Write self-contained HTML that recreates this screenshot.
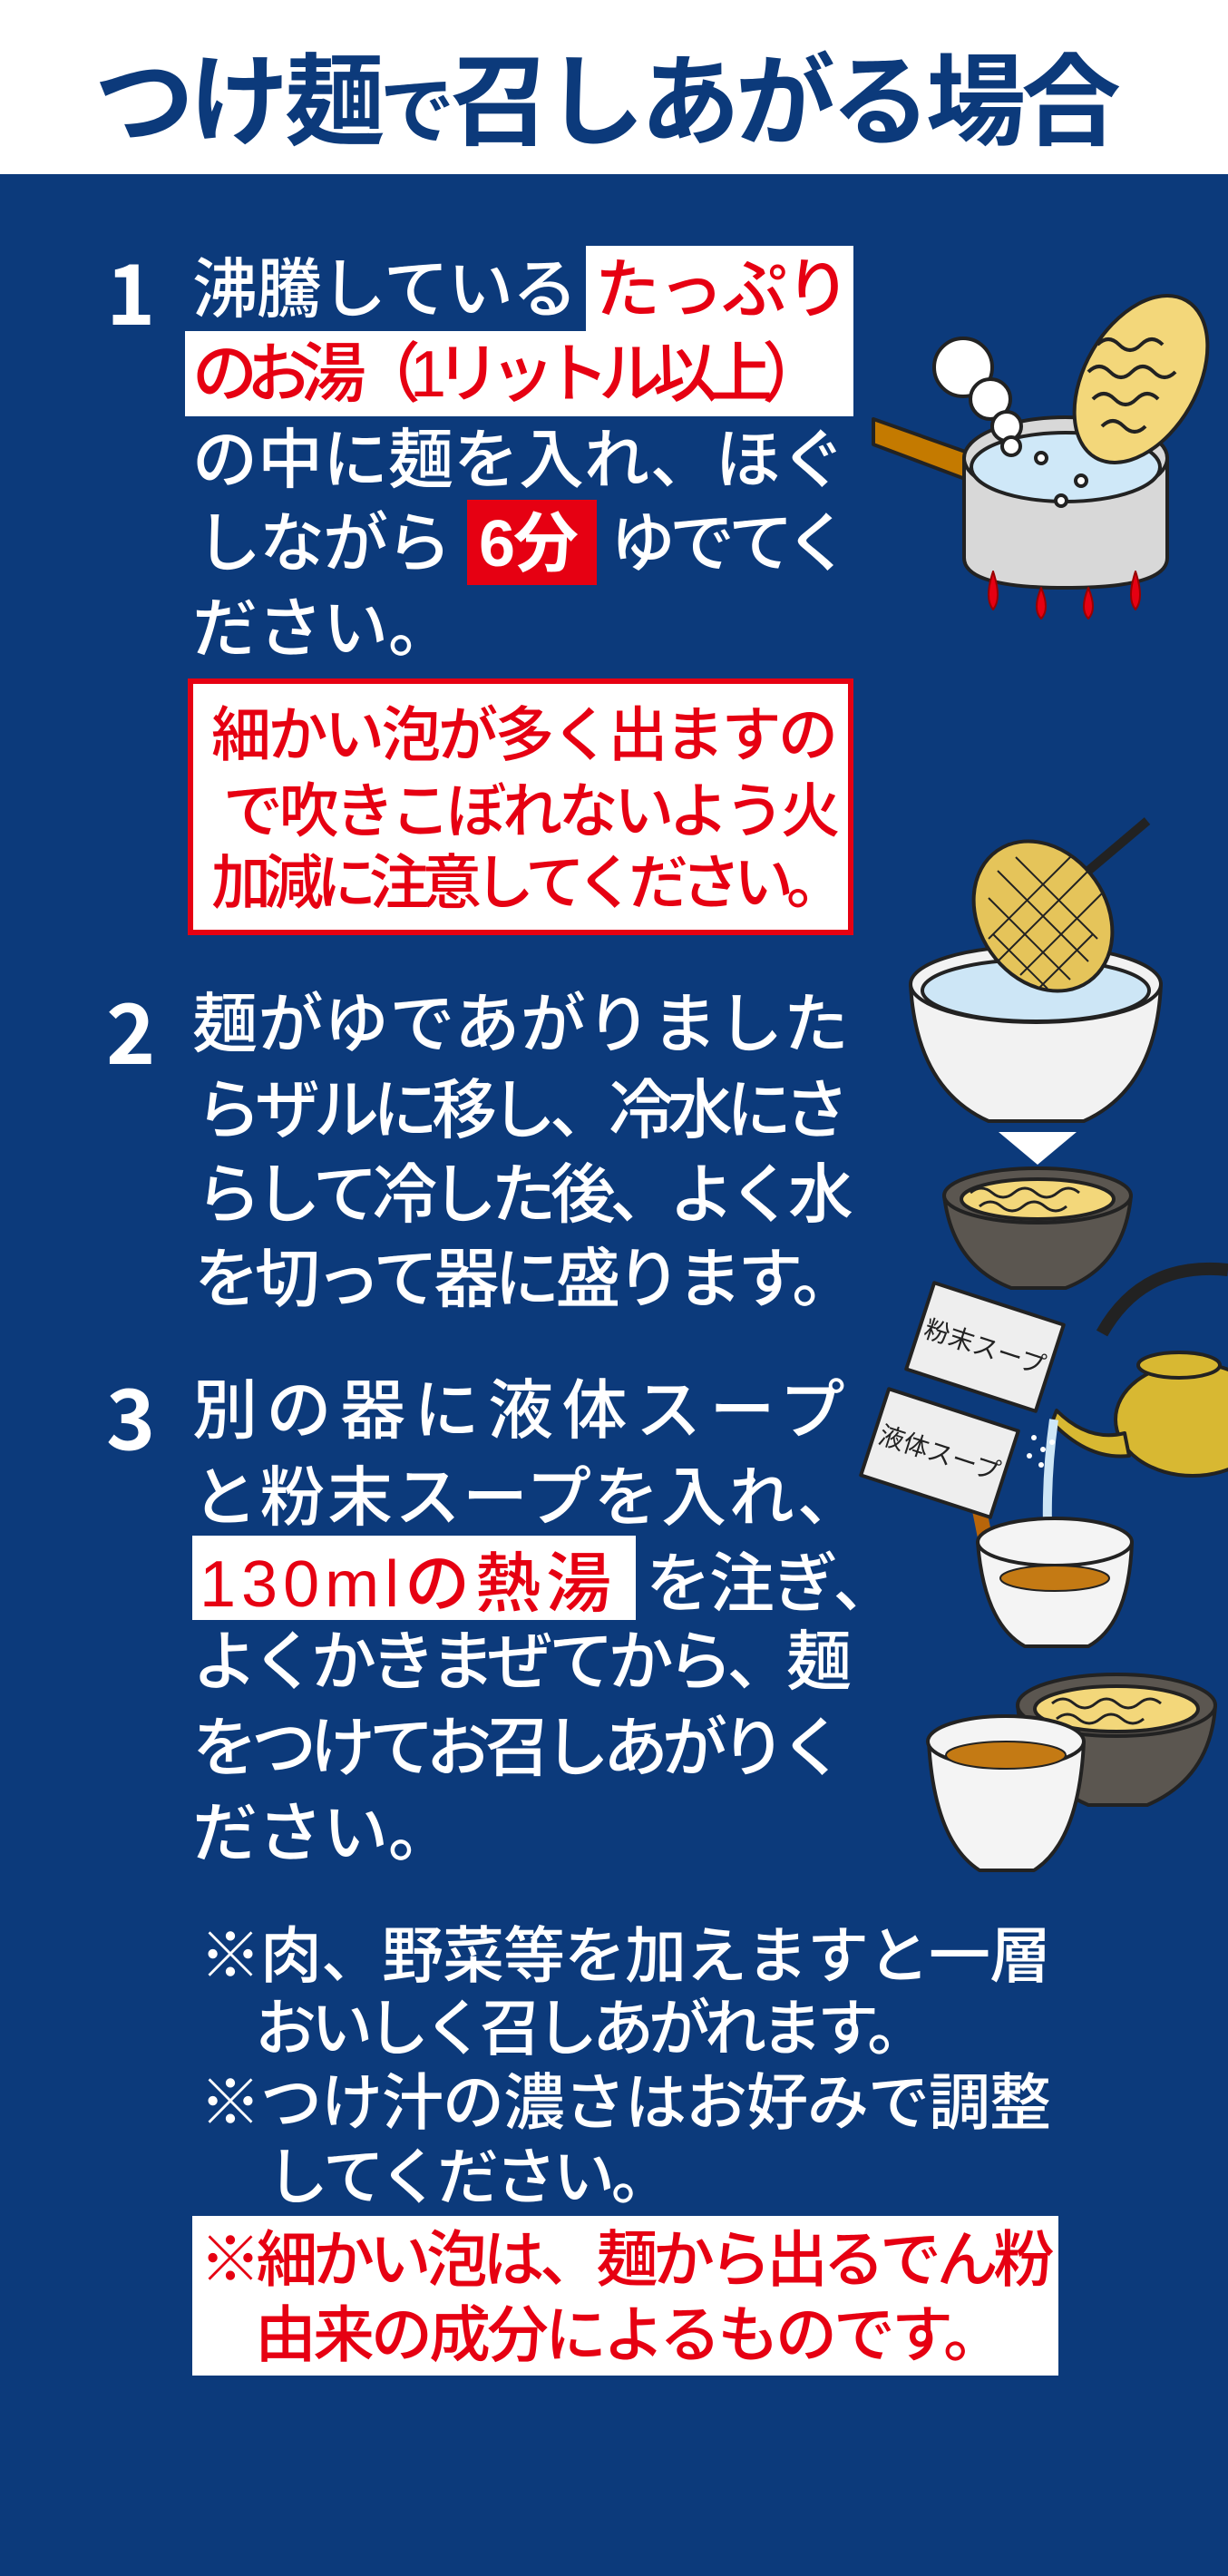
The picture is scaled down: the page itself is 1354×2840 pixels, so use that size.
<!DOCTYPE html>
<html><head><meta charset="utf-8"><style>
html,body{margin:0;padding:0}
body{width:1354px;height:2840px;position:relative;overflow:hidden;background:#0c3a7b;font-family:"Liberation Sans","Noto Sans CJK JP",sans-serif}
.hdr{position:absolute;left:0;top:0;width:1354px;height:192px;background:#fff}
.t{position:absolute;white-space:nowrap;color:#fff;font-size:72px;line-height:94px;height:94px;font-weight:500}
.r{color:#e60012}
.box{position:absolute}
.n{position:absolute;color:#fff;font-weight:bold;font-size:92px;line-height:94px;font-family:"Noto Sans CJK JP",sans-serif}
.m{font-size:66px;line-height:80px;height:80px}
.s{font-size:68px;line-height:82px;height:82px}
svg{position:absolute;left:0;top:0}
</style></head><body>
<div class="hdr"></div>
<div style="position:absolute;left:104px;top:38px;white-space:nowrap;color:#0c3a7b;font-weight:bold;font-size:110px;line-height:130px;letter-spacing:-5px;font-family:'Noto Sans CJK JP',sans-serif">つけ麺<span style="font-size:82px">で</span>召しあがる場合</div>

<!-- step1 -->
<div class="n" style="left:117px;top:272px">1</div>
<div class="box" style="left:646px;top:271px;width:295px;height:96px;background:#fff"></div>
<div class="box" style="left:204px;top:365px;width:737px;height:94px;background:#fff"></div>
<div class="box" style="left:515px;top:551px;width:143px;height:94px;background:#e60012"></div>
<div class="t" style="left:212px;top:273px;letter-spacing:-1px">沸騰している</div>
<div class="t r" style="left:656px;top:273px;letter-spacing:-2px">たっぷり</div>
<div class="t r" style="left:212px;top:366px;letter-spacing:-12px">のお湯（1リットル以上）</div>
<div class="t" style="left:212px;top:461px;letter-spacing:0px">の中に麺を入れ、ほぐ</div>
<div class="t" style="left:216px;top:553px;letter-spacing:-2px">しながら</div>
<div class="t" style="left:528px;top:553px;font-weight:bold;letter-spacing:-2px">6分</div>
<div class="t" style="left:673px;top:553px;letter-spacing:-7px">ゆでてく</div>
<div class="t" style="left:212px;top:647px">ださい。</div>

<div class="box" style="left:207px;top:748px;width:722px;height:271px;border:6px solid #e60012;background:#fff"></div>
<div class="t r m" style="left:233px;top:770px;letter-spacing:-3.5px">細かい泡が多く出ますの</div>
<div class="t r m" style="left:246px;top:854px;letter-spacing:-4.4px">で吹きこぼれないよう火</div>
<div class="t r m" style="left:233px;top:933px;letter-spacing:-8px">加減に注意してください。</div>

<!-- step2 -->
<div class="n" style="left:117px;top:1087px">2</div>
<div class="t" style="left:212px;top:1083px;letter-spacing:0.5px">麺がゆであがりました</div>
<div class="t" style="left:216px;top:1178px;letter-spacing:-7px">らザルに移し、冷水にさ</div>
<div class="t" style="left:216px;top:1271px;letter-spacing:-6.5px">らして冷した後、よく水</div>
<div class="t" style="left:214px;top:1364px;letter-spacing:-5px">を切って器に盛ります。</div>

<!-- step3 -->
<div class="n" style="left:117px;top:1512px">3</div>
<div class="t" style="left:212px;top:1509px;letter-spacing:9.5px">別の器に液体スープ</div>
<div class="t" style="left:212px;top:1605px;letter-spacing:2.5px">と粉末スープを入れ、</div>
<div class="box" style="left:212px;top:1693px;width:489px;height:93px;background:#fff"></div>
<div class="t r" style="left:220px;top:1700px;letter-spacing:6px">130mlの熱湯</div>
<div class="t" style="left:712px;top:1700px;letter-spacing:-2px">を注ぎ、</div>
<div class="t" style="left:212px;top:1786px;letter-spacing:-6.5px">よくかきまぜてから、麺</div>
<div class="t" style="left:212px;top:1881px;letter-spacing:-7px">をつけてお召しあがりく</div>
<div class="t" style="left:212px;top:1975px">ださい。</div>

<div class="t s" style="left:220px;top:2116px;letter-spacing:-1px">※肉、野菜等を加えますと一層</div>
<div class="t s" style="left:281px;top:2196px;letter-spacing:-6px">おいしく召しあがれます。</div>
<div class="t s" style="left:220px;top:2278px;letter-spacing:-1px">※つけ汁の濃さはお好みで調整</div>
<div class="t s" style="left:294px;top:2360px;letter-spacing:-4px">してください。</div>
<div class="box" style="left:212px;top:2443px;width:955px;height:176px;background:#fff"></div>
<div class="t r s" style="left:220px;top:2451px;letter-spacing:-5.5px">※細かい泡は、麺から出るでん粉</div>
<div class="t r s" style="left:281px;top:2534px;letter-spacing:-4px">由来の成分によるものです。</div>

<svg width="1354" height="2840" viewBox="0 0 1354 2840">
<g stroke="#222" stroke-width="4" stroke-linejoin="round">
<!-- pot -->
<polygon points="963,462 1070,500 1064,528 963,490" fill="#c47a00"/>
<path d="M1063,505 L1063,615 Q1063,648 1175,648 Q1287,648 1287,615 L1287,505 Z" fill="#d8d8d8"/>
<ellipse cx="1175" cy="505" rx="112" ry="45" fill="#d8d8d8"/>
<ellipse cx="1175" cy="515" rx="104" ry="38" fill="#cfe8f8"/>
<circle cx="1148" cy="505" r="6" fill="#fff"/><circle cx="1192" cy="530" r="6" fill="#fff"/><circle cx="1170" cy="552" r="6" fill="#fff"/>
<g fill="#e60012" stroke="#900" stroke-width="2">
<path d="M1095,630 Q1085,660 1095,672 Q1105,660 1095,630Z"/><path d="M1148,648 Q1138,672 1148,682 Q1158,672 1148,648Z"/>
<path d="M1200,648 Q1190,672 1200,682 Q1210,672 1200,648Z"/><path d="M1252,630 Q1242,660 1252,672 Q1262,660 1252,630Z"/></g>
<g fill="#fff"><circle cx="1062" cy="405" r="32"/><circle cx="1092" cy="440" r="22"/><circle cx="1110" cy="470" r="16"/><circle cx="1115" cy="492" r="10"/></g>
<ellipse cx="1258" cy="418" rx="62" ry="100" transform="rotate(30 1258 418)" fill="#f3d77a"/>
<g fill="none" stroke-width="4"><path d="M1210,380 q12,-12 24,0 t24,0 t24,0"/><path d="M1200,410 q12,-12 24,0 t24,0 t24,0 t24,0"/><path d="M1205,440 q12,-12 24,0 t24,0 t24,0"/><path d="M1215,470 q12,-12 24,0 t24,0"/></g>
<!-- bowl with colander -->
<path d="M1004,1085 Q1010,1200 1090,1236 L1195,1236 Q1275,1200 1280,1085 Z" fill="#f2f2f2"/>
<ellipse cx="1142" cy="1085" rx="138" ry="42" fill="#f2f2f2"/>
<ellipse cx="1142" cy="1092" rx="125" ry="34" fill="#cde6f6"/>
<line x1="1200" y1="960" x2="1265" y2="905" stroke-width="10"/>
<rect x="1112" y="930" width="26" height="110" fill="#cde6f6" stroke-width="2"/>
<ellipse cx="1150" cy="1010" rx="70" ry="88" transform="rotate(-35 1150 1010)" fill="#e5c45a"/>
<g stroke-width="2" fill="none"><path d="M1100,960 l100,100 M1090,990 l90,90 M1120,945 l90,90 M1095,1030 l60,60 M1200,960 l-100,100 M1215,985 l-90,90 M1180,945 l-90,90 M1205,1030 l-60,60"/></g>
<polygon points="1101,1248 1187,1248 1144,1284" fill="#fff" stroke="none"/>
<!-- dark bowl -->
<path d="M1041,1318 Q1050,1395 1115,1420 L1175,1420 Q1240,1395 1247,1318 Z" fill="#5b5650"/>
<ellipse cx="1144" cy="1318" rx="103" ry="30" fill="#5b5650"/>
<ellipse cx="1144" cy="1322" rx="84" ry="22" fill="#f3d77a"/>
<g fill="none" stroke-width="3"><path d="M1070,1315 q12,-10 24,0 t24,0 t24,0 t24,0 t24,0"/><path d="M1080,1330 q12,-10 24,0 t24,0 t24,0 t24,0"/></g>
<!-- kettle -->
<path d="M1215,1470 Q1260,1390 1354,1400" fill="none" stroke-width="14"/>
<ellipse cx="1315" cy="1565" rx="85" ry="62" fill="#d8b832"/>
<ellipse cx="1300" cy="1505" rx="45" ry="14" fill="#d8b832"/>
<path d="M1240,1580 Q1200,1590 1165,1555 L1160,1568 Q1200,1610 1245,1605 Z" fill="#d8b832"/>
<path d="M1162,1565 Q1150,1650 1158,1740" fill="none" stroke="#cde6f6" stroke-width="10"/>
<!-- packets -->
<g transform="rotate(18 1086 1485)"><rect x="1011" y="1435" width="150" height="100" fill="#eee"/><text x="1086" y="1495" font-size="28" fill="#222" stroke="none" text-anchor="middle" font-family="Noto Sans CJK JP,sans-serif">粉末スープ</text></g>
<path d="M1075,1640 Q1085,1690 1095,1740" fill="none" stroke="#b8650a" stroke-width="16"/>
<g transform="rotate(18 1036 1602)"><rect x="961" y="1552" width="150" height="100" fill="#eee"/><text x="1036" y="1612" font-size="28" fill="#222" stroke="none" text-anchor="middle" font-family="Noto Sans CJK JP,sans-serif">液体スープ</text></g>
<g fill="#fff" stroke="none"><circle cx="1140" cy="1585" r="3"/><circle cx="1150" cy="1598" r="3"/><circle cx="1135" cy="1605" r="3"/><circle cx="1148" cy="1615" r="3"/><circle cx="1160" cy="1590" r="3"/></g>
<!-- cup -->
<path d="M1078,1700 Q1085,1790 1130,1815 L1200,1815 Q1245,1790 1248,1700 Z" fill="#f4f4f4"/>
<ellipse cx="1163" cy="1700" rx="85" ry="26" fill="#f4f4f4"/>
<ellipse cx="1163" cy="1740" rx="60" ry="14" fill="#c47a14" stroke-width="2"/>
<!-- final -->
<path d="M1122,1880 Q1130,1960 1200,1990 L1265,1990 Q1335,1960 1340,1880 Z" fill="#5b5650"/>
<ellipse cx="1231" cy="1880" rx="109" ry="34" fill="#5b5650"/>
<ellipse cx="1231" cy="1884" rx="90" ry="25" fill="#f3d77a"/>
<g fill="none" stroke-width="3"><path d="M1160,1878 q12,-10 24,0 t24,0 t24,0 t24,0 t24,0"/><path d="M1165,1895 q12,-10 24,0 t24,0 t24,0 t24,0"/></g>
<path d="M1024,1920 Q1030,2030 1080,2062 L1140,2062 Q1190,2030 1195,1920 Z" fill="#f4f4f4"/>
<ellipse cx="1109" cy="1920" rx="86" ry="28" fill="#f4f4f4"/>
<ellipse cx="1109" cy="1935" rx="66" ry="15" fill="#c47a14" stroke-width="2"/>
</g>
</svg>
</body></html>
